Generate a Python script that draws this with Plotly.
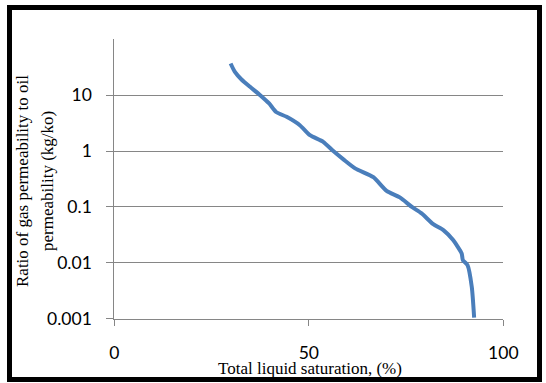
import plotly.graph_objects as go

# Data
saturation = [29.9, 31.0, 32.7, 34.9, 37.5, 39.8, 41.6, 44.3, 47.7, 50.3, 53.7, 56.3,
              58.9, 61.9, 66.6, 70.0, 73.4, 76.5, 79.0, 82.0, 84.6, 87.1, 89.3, 89.6,
              90.8, 91.9, 92.5]
kg_ko = [36.9, 26.1, 19.1, 14.1, 10.0, 7.1, 5.0, 4.1, 2.9, 1.92, 1.46, 1.0,
         0.71, 0.49, 0.34, 0.194, 0.148, 0.100, 0.0766, 0.0492, 0.0385, 0.0255, 0.0147, 0.0112,
         0.0091, 0.0037, 0.00105]
y_tickvals = [0.001, 0.01, 0.1, 1, 10]
y_ticktext = ["0.001", "0.01", "0.1", "1", "10"]
x_tickvals = [0, 50, 100]

W, H = 546, 383
px_l, px_r, px_t, px_b = 114.3, 503.3, 39.3, 318.7

fig = go.Figure()
fig.add_trace(go.Scatter(x=saturation, y=kg_ko, mode="lines",
                         line=dict(color="#4a7ebb", width=4, shape="spline", smoothing=0.6),
                         showlegend=False, hoverinfo="skip"))

tickfont = dict(family="Lato", size=17.5, color="black")
fig.update_layout(
    width=W, height=H,
    margin=dict(l=0, r=0, t=0, b=0),
    paper_bgcolor="white", plot_bgcolor="white",
    xaxis=dict(domain=[px_l / W, px_r / W], range=[0, 100], tickvals=x_tickvals,
               showgrid=False, zeroline=False, showline=True, linecolor="#868686",
               linewidth=1, ticks="outside", ticklen=6, tickcolor="#868686",
               tickfont=tickfont, ticklabelstandoff=12, automargin=False),
    yaxis=dict(domain=[1 - px_b / H, 1 - px_t / H], type="log", range=[-3, 2],
               tickvals=y_tickvals, ticktext=y_ticktext,
               showgrid=True, gridcolor="#868686", gridwidth=1, zeroline=False,
               showline=True, linecolor="#868686", linewidth=1,
               ticks="outside", ticklen=7, tickcolor="#868686",
               tickfont=tickfont, ticklabelstandoff=11, automargin=False),
)

titlefont = dict(family="Liberation Serif", size=17, color="black")
fig.add_annotation(x=310 / W, y=1 - 368 / H, xref="paper", yref="paper",
                   text="Total liquid saturation, (%)", showarrow=False,
                   font=titlefont, xanchor="center", yanchor="middle")
fig.add_annotation(x=22 / W, y=1 - 181 / H, xref="paper", yref="paper",
                   text="Ratio of gas permeability to oil", showarrow=False,
                   font=titlefont, textangle=-90, xanchor="center", yanchor="middle")
fig.add_annotation(x=47 / W, y=1 - 181 / H, xref="paper", yref="paper",
                   text="permeability (kg/ko)", showarrow=False,
                   font=titlefont, textangle=-90, xanchor="center", yanchor="middle")

# Outer black frame
fig.add_shape(type="rect", xref="paper", yref="paper",
              x0=9.5 / W, x1=539.5 / W, y0=1 - 379.5 / H, y1=1 - 7.5 / H,
              line=dict(color="black", width=5), fillcolor="rgba(0,0,0,0)", layer="above")

fig.write_html("out.html", config={"displayModeBar": False},
               post_script="document.body.style.margin='0';document.body.style.overflow='hidden';")
